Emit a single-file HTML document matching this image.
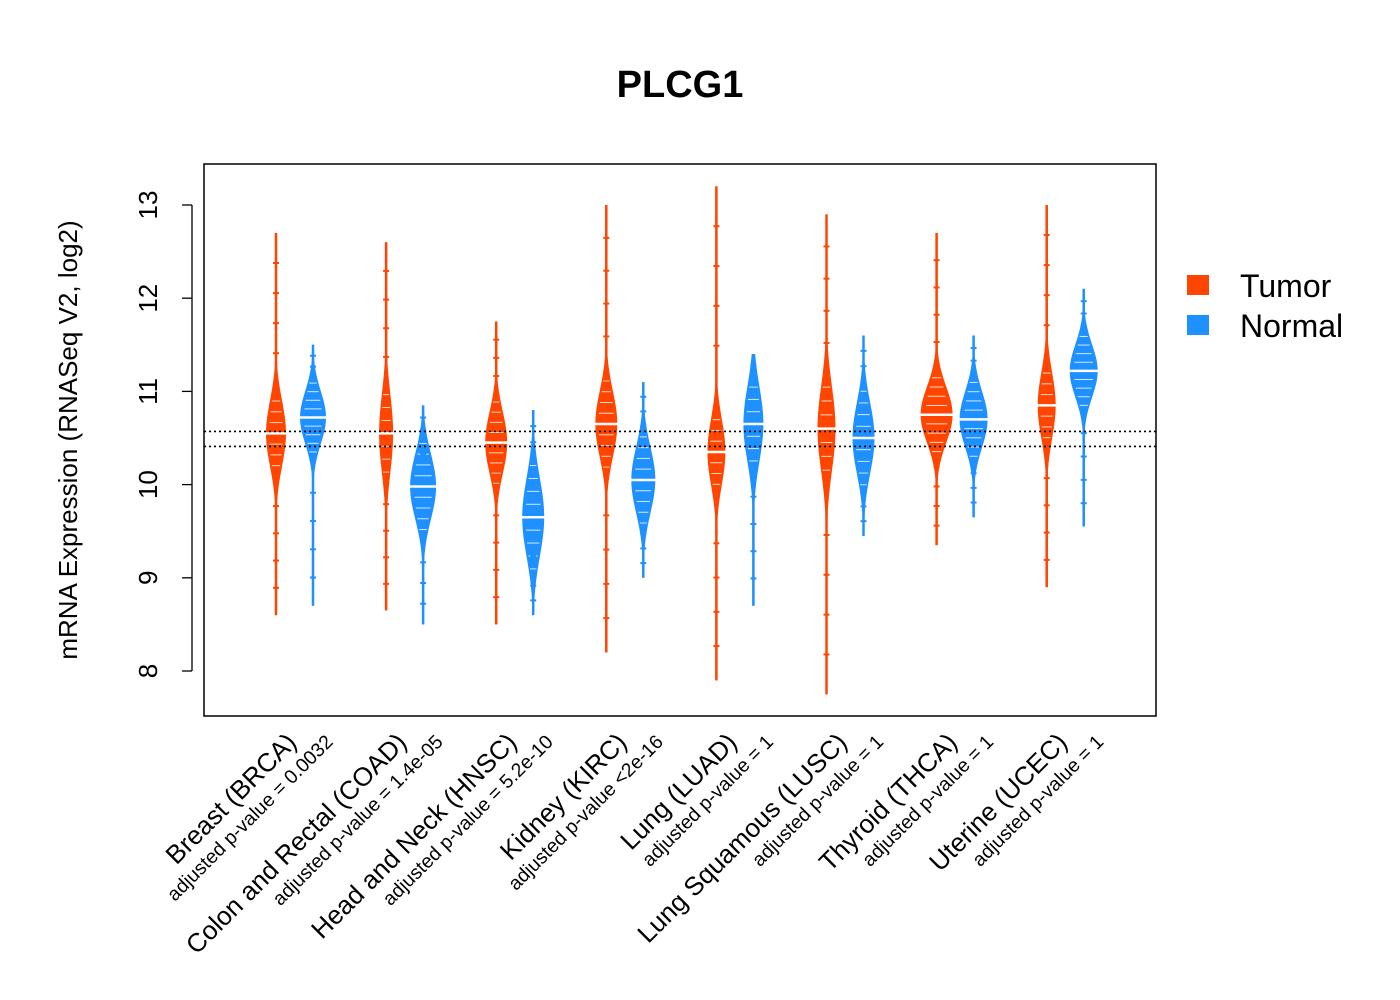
<!DOCTYPE html>
<html><head><meta charset="utf-8"><style>
body{margin:0;background:#fff}
svg{display:block;font-family:"Liberation Sans",Arial,sans-serif}
</style></head><body>
<svg id="chart" width="1400" height="1000" viewBox="0 0 1400 1000">
<text x="680" y="97" font-size="38" font-weight="bold" text-anchor="middle">PLCG1</text>
<rect x="204" y="164" width="952" height="552" fill="none" stroke="#000" stroke-width="1.5"/>
<text transform="translate(77,440) rotate(-90)" font-size="26" text-anchor="middle">mRNA Expression (RNASeq V2, log2)</text>
<g id="yaxis"></g>
<g id="beans"></g>
<g id="xlabels"></g>
<g>
<rect x="1187" y="275" width="22" height="20" fill="#FF4500"/>
<text x="1240" y="297" font-size="32">Tumor</text>
<rect x="1187" y="315" width="22" height="20" fill="#1E90FF"/>
<text x="1240" y="337" font-size="32">Normal</text>
</g>
</svg>
<script>
const categories=["Breast (BRCA)","Colon and Rectal (COAD)","Head and Neck (HNSC)","Kidney (KIRC)","Lung (LUAD)","Lung Squamous (LUSC)","Thyroid (THCA)","Uterine (UCEC)"];
const pvalues=["adjusted p-value = 0.0032","adjusted p-value = 1.4e-05","adjusted p-value = 5.2e-10","adjusted p-value <2e-16","adjusted p-value = 1","adjusted p-value = 1","adjusted p-value = 1","adjusted p-value = 1"];
const tumorMedian=[10.55,10.55,10.45,10.65,10.35,10.6,10.75,10.85];
const tumorSpread=[0.35,0.42,0.33,0.35,0.35,0.45,0.3,0.35];
const tumorMin=[8.6,8.65,8.5,8.2,7.9,7.75,9.35,8.9];
const tumorMax=[12.7,12.6,11.75,13.0,13.2,12.9,12.7,13.0];
const normalMedian=[10.72,9.98,9.65,10.05,10.65,10.5,10.7,11.22];
const normalSpread=[0.28,0.35,0.42,0.35,0.4,0.38,0.3,0.28];
const normalMin=[8.7,8.5,8.6,9.0,8.7,9.45,9.65,9.55];
const normalMax=[11.5,10.85,10.8,11.1,11.4,11.6,11.6,12.1];
const yTicks=[8,9,10,11,12,13];
const refLines=[10.57,10.41];
const tumorWidth=[10,7,11,11,9,9,16,9];
const normalWidth=[13,13,11,12,10,11,14,14];

const NS="http://www.w3.org/2000/svg";
const y=v=>671-(v-8)*93.2;
const gx=i=>294+i*110.1;
const svg=document.getElementById('chart');
function mk(tag,attrs,parent){const e=document.createElementNS(NS,tag);for(const k in attrs)e.setAttribute(k,attrs[k]);parent.appendChild(e);return e;}
const ya=document.getElementById('yaxis');
mk('line',{x1:192,x2:192,y1:y(yTicks[0]),y2:y(yTicks[yTicks.length-1]),stroke:'#000','stroke-width':1.3},ya);
yTicks.forEach(t=>{
 const l=mk('line',{x1:182,x2:192,y1:y(t),y2:y(t),stroke:'#000','stroke-width':1.3},ya);
 
 
 const tx=mk('text',{transform:`translate(157,${y(t)}) rotate(-90)`,'font-size':26,'text-anchor':'middle'},ya);
 tx.textContent=t;
 
 
});
const beans=document.getElementById('beans');
function bean(cx,med,sd,mn,mx,w,color,name){
 const g=mk('g',{},beans);
 
 
 mk('line',{x1:cx,x2:cx,y1:y(mn),y2:y(mx),stroke:color,'stroke-width':2.5},g);
 let r=[],l=[];
 for(let k=0;k<=80;k++){const v=mn+(mx-mn)*k/80;const d=Math.exp(-0.5*((v-med)/sd)**2);const h=Math.max(1,w*d);r.push(`${cx+h},${y(v)}`);l.unshift(`${cx-h},${y(v)}`);}
 mk('polygon',{points:r.concat(l).join(' '),fill:color},g);
 for(let k=-6;k<=6;k++){if(k===0)continue;const v=med+k*sd*0.33;const d=Math.exp(-0.5*((v-med)/sd)**2);const h=w*d*0.7;if(h<3)continue;
  mk('line',{x1:cx-h,x2:cx+h,y1:y(v),y2:y(v),stroke:'#fff','stroke-width':1,opacity:0.8},g);}
 mk('line',{x1:cx-w*1.1,x2:cx+w*1.1,y1:y(med),y2:y(med),stroke:'#fff','stroke-width':2.5},g);
 for(let k=1;k<=4;k++){[mn+(med-mn)*k*0.15, mx-(mx-med)*k*0.15].forEach(v=>mk('line',{x1:cx-3,x2:cx+3,y1:y(v),y2:y(v),stroke:color,'stroke-width':2},g));}
}
categories.forEach((c,i)=>{
 bean(gx(i)-18,tumorMedian[i],tumorSpread[i],tumorMin[i],tumorMax[i],tumorWidth[i],'#FF4500','bean-tumor-'+i);
 bean(gx(i)+19,normalMedian[i],normalSpread[i],normalMin[i],normalMax[i],normalWidth[i],'#1E90FF','bean-normal-'+i);
});
refLines.forEach(v=>{const l=mk('line',{x1:204,x2:1156,y1:y(v),y2:y(v),stroke:'#000','stroke-width':1.6,'stroke-dasharray':'2,3'},beans);
 
 });
const xl=document.getElementById('xlabels');
categories.forEach((c,i)=>{
 const t=mk('text',{transform:`translate(${gx(i)+4},${744}) rotate(-45)`,'font-size':26,'text-anchor':'end'},xl);
 t.textContent=c;
 
 
 const p=mk('text',{transform:`translate(${gx(i)+40},${743}) rotate(-45)`,'font-size':19.5,'text-anchor':'end'},xl);
 p.textContent=pvalues[i];
 
 
});
</script>
</body></html>
